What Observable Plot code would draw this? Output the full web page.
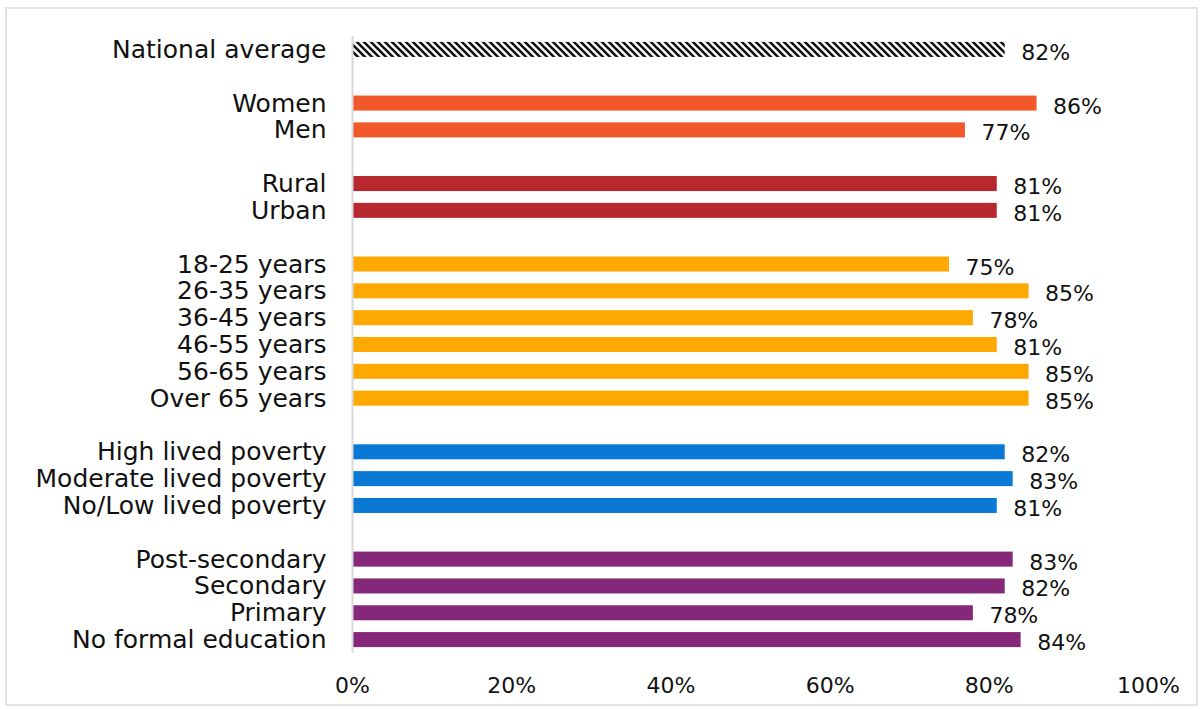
<!DOCTYPE html>
<html>
<head>
<meta charset="utf-8">
<script src="https://cdn.jsdelivr.net/npm/d3@7"></script>
<script src="https://cdn.jsdelivr.net/npm/@observablehq/plot@0.6"></script>
<style>
  html, body { margin: 0; padding: 0; background: #fff; }
  #wrap { position: relative; width: 1203px; height: 709px; overflow: hidden; }
  #border { position: absolute; left: 5px; top: 7px; width: 1189px; height: 695px; border: 2px solid #e3e3e3; pointer-events: none; }
  #chart { position: absolute; left: 0; top: 0; }
</style>
</head>
<body>
<div id="wrap"><div id="chart"></div><div id="border"></div></div>
<script>
// Categories in display order (blank rows separate groups)
const categories = [
  "National average", " ",
  "Women", "Men", "  ",
  "Rural", "Urban", "   ",
  "18-25 years", "26-35 years", "36-45 years", "46-55 years", "56-65 years", "Over 65 years", "    ",
  "High lived poverty", "Moderate lived poverty", "No/Low lived poverty", "     ",
  "Post-secondary", "Secondary", "Primary", "No formal education"
];
const barCategories = [
  "National average",
  "Women", "Men",
  "Rural", "Urban",
  "18-25 years", "26-35 years", "36-45 years", "46-55 years", "56-65 years", "Over 65 years",
  "High lived poverty", "Moderate lived poverty", "No/Low lived poverty",
  "Post-secondary", "Secondary", "Primary", "No formal education"
];
const values = [82, 86, 77, 81, 81, 75, 85, 78, 81, 85, 85, 82, 83, 81, 83, 82, 78, 84];
const groups = ["national", "gender", "gender", "location", "location",
  "age", "age", "age", "age", "age", "age",
  "poverty", "poverty", "poverty",
  "education", "education", "education", "education"];
const groupNames = ["national", "gender", "location", "age", "poverty", "education"];
const groupColors = ["url(#hatch)", "#F2582A", "#B7292F", "#FFA800", "#0A79D6", "#852879"];
const xTicks = [0, 0.2, 0.4, 0.6, 0.8, 1.0];

const data = barCategories.map((c, i) => ({category: c, value: values[i] / 100, group: groups[i]}));

const plot = Plot.plot({
  width: 1203,
  height: 709,
  marginTop: 36,
  marginBottom: 56,
  marginLeft: 352,
  marginRight: 55,
  style: {fontFamily: "'DejaVu Sans', sans-serif", color: "#111", background: "transparent"},
  x: {domain: [0, 1], ticks: xTicks, tickFormat: d3.format(".0%"), label: null},
  y: {domain: categories, paddingInner: 0.44, paddingOuter: 0.22, round: false, label: null},
  color: {domain: groupNames, range: groupColors},
  marks: [
    Plot.barX(data, {y: "category", x: "value", fill: "group"}),
    Plot.ruleX([0], {stroke: "#d9d9d9", strokeWidth: 2}),
    Plot.text(data, {y: "category", x: "value", text: d => Math.round(d.value * 100) + "%",
      textAnchor: "start", dx: 16, dy: 3, fontSize: 22, fill: "#111"}),
    Plot.axisY({tickSize: 0, tickPadding: 26, fontSize: 25, label: null}),
    Plot.axisX({ticks: xTicks, tickFormat: d3.format(".0%"), tickSize: 0, tickPadding: 24, fontSize: 22, label: null})
  ]
});

// hatch pattern for national average
const ns = "http://www.w3.org/2000/svg";
const defs = document.createElementNS(ns, "defs");
const pat = document.createElementNS(ns, "pattern");
pat.setAttribute("id", "hatch");
pat.setAttribute("patternUnits", "userSpaceOnUse");
pat.setAttribute("width", "7");
pat.setAttribute("height", "7");
const bg = document.createElementNS(ns, "rect");
bg.setAttribute("width", "7"); bg.setAttribute("height", "7"); bg.setAttribute("fill", "#fff");
pat.appendChild(bg);
const p = document.createElementNS(ns, "path");
p.setAttribute("d", "M-1,-1 L8,8 M-1,6 L1,8 M6,-1 L8,1");
p.setAttribute("stroke", "#111");
p.setAttribute("stroke-width", "2.6");
pat.appendChild(p);
defs.appendChild(pat);
plot.insertBefore(defs, plot.firstChild);

document.getElementById("chart").appendChild(plot);
</script>
</body>
</html>
